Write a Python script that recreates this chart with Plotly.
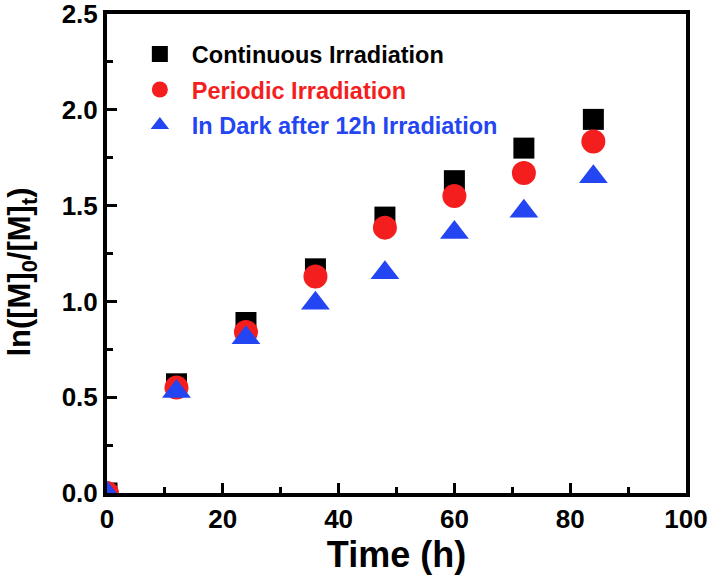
import plotly.graph_objects as go

# data
time_h = [0, 12, 24, 36, 48, 60, 72, 84]
continuous = [0, 0.57, 0.89, 1.17, 1.44, 1.63, 1.80, 1.95]
periodic = [0, 0.55, 0.84, 1.13, 1.385, 1.55, 1.67, 1.835]
dark_after_12h = [0, 0.53, 0.81, 0.99, 1.15, 1.36, 1.47, 1.65]

series_names = ['Continuous Irradiation', 'Periodic Irradiation', 'In Dark after 12h Irradiation']
colors = ['#000000', '#F41E1E', '#2445F2']
symbols = ['square', 'circle', 'triangle-up']
sizes = [21, 24, 25]

x_ticks = [0, 20, 40, 60, 80, 100]
y_ticks = [0.0, 0.5, 1.0, 1.5, 2.0, 2.5]

font = 'Arial, Liberation Sans, sans-serif'

fig = go.Figure()
for i, (name, vals, c, sym, sz) in enumerate(zip(series_names, [continuous, periodic, dark_after_12h], colors, symbols, sizes)):
    fig.add_trace(go.Scatter(
        x=time_h, y=vals, mode='markers',
        name=f"<span style='color:{c}'>{name}</span>",
        legendgroup=f'g{i}',
        marker=dict(symbol=sym, size=sz, color=c, line=dict(width=0)),
    ))

axis_common = dict(
    showline=True, linewidth=4, linecolor='black', mirror=True,
    ticks='inside', ticklen=10, tickwidth=3, tickcolor='black',
    showgrid=False, zeroline=False, automargin=False, ticklabeloverflow='allow',
    tickfont=dict(family=font, size=26, color='black', weight='bold'),
)

fig.update_xaxes(
    range=[0, 100], tickvals=x_ticks, ticktext=[str(v) for v in x_ticks],
    minor=dict(ticks='inside', ticklen=6, tickwidth=3, tickcolor='black', dtick=10, tick0=0),
    title=dict(text='Time (h)', font=dict(family=font, size=36, color='black', weight='bold'), standoff=2),
    **axis_common,
)
fig.update_yaxes(
    range=[0, 2.5], tickvals=y_ticks, ticktext=[f'{v:.1f}' for v in y_ticks],
    minor=dict(ticks='inside', ticklen=6, tickwidth=3, tickcolor='black', dtick=0.25, tick0=0),
    **axis_common,
)

# y title as a rotated annotation (sits a bit below the axis middle in the original)
fig.add_annotation(
    text='ln([M]<sub>0</sub>/[M]<sub>t</sub>)', textangle=-90,
    xref='paper', yref='paper', x=-0.147, y=0.462,
    xanchor='center', yanchor='middle', showarrow=False,
    font=dict(family=font, size=31, color='black', weight='bold'),
)

fig.update_layout(
    width=711, height=577,
    margin=dict(l=107, r=25, t=14, b=84),
    plot_bgcolor='white', paper_bgcolor='white',
    showlegend=True,
    legend=dict(
        x=0.036, y=0.962, xanchor='left', yanchor='top',
        bgcolor='rgba(0,0,0,0)',
        font=dict(family=font, size=23.5, weight='bold'),
        itemsizing='trace', itemwidth=54, tracegroupgap=2,
    ),
)

# page body has a default 8px margin; drop it so the figure sits at the window corner
fig.write_html('out.html', config={'displayModeBar': False},
               post_script="document.body.style.margin='0';")
